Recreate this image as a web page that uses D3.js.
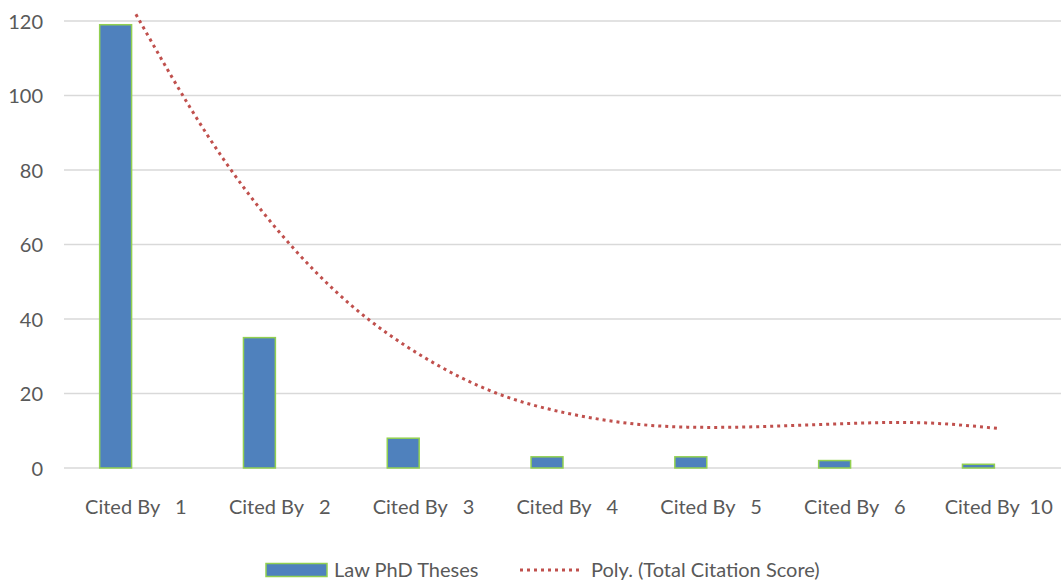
<!DOCTYPE html>
<html>
<head>
<meta charset="utf-8">
<script src="https://cdn.jsdelivr.net/npm/d3@7"></script>
<style>
  html, body { margin: 0; padding: 0; background: #ffffff; }
  svg { display: block; }
  text { font-family: Lato, "Liberation Sans", Arial, sans-serif; fill: #595959; white-space: pre; }
</style>
</head>
<body>
<svg id="chart" width="1061" height="581"></svg>
<script>
// Category labels along the x axis
const categories = ["Cited By   1", "Cited By   2", "Cited By   3", "Cited By   4", "Cited By   5", "Cited By   6", "Cited By  10"];
// Number of law PhD theses in each citation group
const thesesCounts = [119, 35, 8, 3, 3, 2, 1];
// Polynomial trend of the total citation score, sampled at category positions (1 = first category)
const trendPositions = [1, 1.5, 2, 2.5, 3, 3.5, 4, 4.5, 5, 5.5, 6, 6.5, 7];
const trendValues = [121.8, 89.2, 63.2, 43.6, 29.8, 20.2, 14.7, 11.7, 10.9, 11.3, 12.0, 12.1, 10.6];
// Value axis ticks
const yTicks = [0, 20, 40, 60, 80, 100, 120];

const FONT = "Lato, 'Liberation Sans', Arial, sans-serif";
const FS = "20px";

const svg = d3.select("#chart");

const plotLeft = 64, plotRight = 1070.6, plotTop = 21, plotBottom = 468;

const x = d3.scaleBand().domain(categories).range([plotLeft, plotRight]).paddingInner(0).paddingOuter(0);
const y = d3.scaleLinear().domain([0, 120]).range([plotBottom, plotTop]);
// Category index (1-based) to the centre of its band
const xPos = d3.scaleLinear().domain([1, categories.length])
  .range([x(categories[0]) + x.bandwidth() / 2, x(categories[categories.length - 1]) + x.bandwidth() / 2]);

// Horizontal gridlines
svg.append("g")
  .selectAll("line")
  .data(yTicks)
  .join("line")
  .attr("x1", plotLeft)
  .attr("x2", 1061)
  .attr("y1", d => y(d))
  .attr("y2", d => y(d))
  .attr("stroke", "#d9d9d9")
  .attr("stroke-width", 1.5);

// Value axis labels
const yAxis = d3.axisLeft(y).tickValues(yTicks).tickSize(0).tickPadding(0);
const yg = svg.append("g").attr("transform", `translate(43,0)`).call(yAxis);
yg.select(".domain").remove();
yg.selectAll("text")
  .attr("font-size", FS)
  .attr("font-family", FONT)
  .attr("fill", "#595959")
  .attr("dy", "0.36em");

// Category axis labels
const xAxis = d3.axisBottom(x).tickSize(0).tickPadding(0);
const xg = svg.append("g").attr("transform", `translate(0,${plotBottom})`).call(xAxis);
xg.select(".domain").remove();
xg.selectAll("text")
  .attr("font-size", FS)
  .attr("font-family", FONT)
  .attr("fill", "#595959")
  .attr("y", 46)
  .attr("dy", 0)
  .style("white-space", "pre");

// Bars (first series of each cluster)
const barW = x.bandwidth() * 0.222;
const barOff = x.bandwidth() * 0.248;
svg.append("g")
  .selectAll("rect")
  .data(thesesCounts)
  .join("rect")
  .attr("x", (d, i) => x(categories[i]) + barOff)
  .attr("y", d => y(d))
  .attr("width", barW)
  .attr("height", d => y(0) - y(d))
  .attr("fill", "#4f81bd")
  .attr("stroke", "#92d050")
  .attr("stroke-width", 1.5);

// Polynomial trendline (dotted)
const trendLine = d3.line()
  .x(d => xPos(d[0]))
  .y(d => y(d[1]))
  .curve(d3.curveNatural);
svg.append("path")
  .datum(trendPositions.map((p, i) => [p, trendValues[i]]))
  .attr("d", trendLine)
  .attr("fill", "none")
  .attr("stroke", "#c0504d")
  .attr("stroke-width", 3)
  .attr("stroke-dasharray", "3 4");

// Legend
const legend = svg.append("g");
legend.append("rect")
  .attr("x", 266).attr("y", 563.5)
  .attr("width", 61).attr("height", 13)
  .attr("fill", "#4f81bd")
  .attr("stroke", "#92d050")
  .attr("stroke-width", 1.5);
legend.append("text")
  .attr("x", 334).attr("y", 577)
  .attr("font-size", FS)
  .attr("font-family", FONT)
  .text("Law PhD Theses");
legend.append("line")
  .attr("x1", 520).attr("x2", 581)
  .attr("y1", 570).attr("y2", 570)
  .attr("stroke", "#c0504d")
  .attr("stroke-width", 3)
  .attr("stroke-dasharray", "3 4");
legend.append("text")
  .attr("x", 591).attr("y", 577)
  .attr("font-size", FS)
  .attr("font-family", FONT)
  .text("Poly. (Total Citation Score)");
</script>
</body>
</html>
